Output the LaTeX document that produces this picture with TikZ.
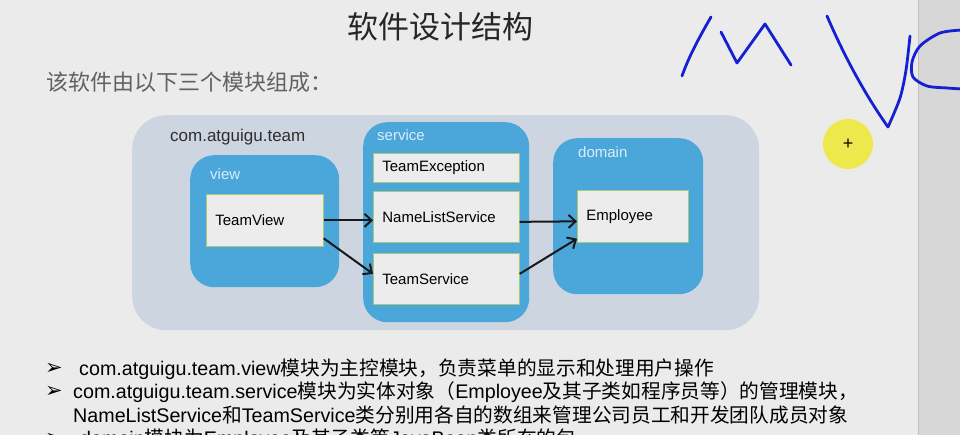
\documentclass[tikz,border=0pt]{standalone}
\usepackage{fontspec}
\setmainfont{Liberation Sans}
\newfontfamily\cjk{Noto Sans CJK SC}
\newfontfamily\symfont{DejaVu Sans}
\usetikzlibrary{arrows.meta,calc}
\definecolor{slidebg}{RGB}{235,235,235}
\definecolor{stripgray}{RGB}{215,215,215}
\definecolor{stripline}{RGB}{192,192,192}
\definecolor{teambg}{RGB}{205,213,225}
\definecolor{pkgblue}{RGB}{75,167,217}
\definecolor{pkgtext}{RGB}{218,236,250}
\definecolor{boxgray}{RGB}{236,236,236}
\definecolor{boxline}{RGB}{165,200,125}
\definecolor{inkblue}{RGB}{20,32,210}
\definecolor{cursoryellow}{RGB}{237,232,75}

\begin{document}
\begin{tikzpicture}[
  x=1pt,y=-1pt,
  arrow/.style={draw=black!90,line width=2pt,-{Straight Barb[length=7pt,width=13pt,line width=2pt]}},
  pkg/.style={fill=pkgblue,rounded corners=24pt,inner sep=0pt,anchor=north west},
  pkglabel/.style={text=pkgtext,font=\fontsize{15}{18}\selectfont,anchor=west,inner sep=0pt},
  cls/.style={fill=boxgray,draw=boxline,line width=.7pt,anchor=north west,align=left,
    inner xsep=9pt,inner ysep=0pt,font=\fontsize{15}{18}\selectfont},
  bullet/.style={anchor=west,font=\fontsize{19.7}{23}\selectfont,inner sep=0pt},
  bulletmark/.style={anchor=west,inner sep=0pt,font=\symfont\fontsize{21}{22}\selectfont},
  ink/.style={draw=inkblue,line width=2.8pt,line cap=round,line join=round}
]
\useasboundingbox (0,0) rectangle (960,435);
\clip (0,0) rectangle (960,435);
\fill[slidebg] (0,0) rectangle (960,435);
\fill[stripgray] (918,0) rectangle (960,435);
\draw[stripline,line width=1pt] (918,0) -- (918,435);

% Title and lead-in line.
\node[font=\cjk\fontsize{31}{36}\selectfont,text=black!85] (title) at (440,27) {软件设计结构};
\node[anchor=west,inner sep=0pt,font=\cjk\fontsize{22}{26}\selectfont,text=black!62] (lead) at (46,82) {该软件由以下三个模块组成：};

% Package com.atguigu.team with its three sub-packages.
\node[pkg,fill=teambg,rounded corners=34pt,minimum width=627pt,minimum height=215pt] (team) at (132,115) {};
\node[anchor=west,inner sep=0pt,font=\fontsize{17}{20}\selectfont,text=black!82] (teamlabel) at (170,137) {com.atguigu.team};

\node[pkg,minimum width=149pt,minimum height=132pt] (view) at (190,155) {};
\node[pkglabel] (viewlabel) at (210,174) {view};
\node[cls,text width=99pt,minimum height=52pt] (tv) at (206,194) {TeamView};

\node[pkg,minimum width=166pt,minimum height=200pt] (service) at (363,122) {};
\node[pkglabel] (servicelabel) at (377,135) {service};
\node[cls,text width=128pt,minimum height=29pt] (te) at (373,153) {TeamException};
\node[cls,text width=128pt,minimum height=51pt] (nls) at (373,191) {NameListService};
\node[cls,text width=128pt,minimum height=51pt] (ts) at (373,253) {TeamService};

\node[pkg,minimum width=150pt,minimum height=156pt] (domain) at (553,138) {};
\node[pkglabel] (domainlabel) at (578,152) {domain};
\node[cls,text width=93pt,minimum height=52pt] (emp) at (577,190) {Employee};

% Dependencies between the classes.
\draw[arrow] (tv.east) -- (tv.east -| nls.west);
\draw[arrow] ([yshift=-18pt]tv.east) -- ([yshift=5pt]ts.west);
\draw[arrow] ([yshift=-5pt]nls.east) -- ([yshift=-5pt]emp.west);
\draw[arrow] ([yshift=5pt]ts.east) -- ([yshift=4pt]emp.south west);

% Notes below the diagram.
\node[bulletmark] (b1) at (45,369) {➢};
\node[bullet] (l1) at (79,369) {com.atguigu.team.view{\cjk 模块为主控模块，负责菜单的显示和处理用户操作}};
\node[bulletmark] (b2) at (45,392) {➢};
\node[bullet] (l2) at (73,392) {com.atguigu.team.service{\cjk 模块为实体对象（}Employee{\cjk 及其子类如程序员等）的管理模块，}};
\node[bullet] (l3) at (73,415) {NameListService{\cjk 和}TeamService{\cjk 类分别用各自的数组来管理公司员工和开发团队成员对象}};
\node[bulletmark] (b4) at (45,439) {➢};
\node[bullet] (l4) at (80,439) {domain{\cjk 模块为}Employee{\cjk 及其子类等}JavaBean{\cjk 类所在的包}};

% Hand-written MVC and pointer.
\draw[ink] (711,17) .. controls (700,36) and (689,56) .. (682,76);
\draw[ink] (721,32) -- (737,63) -- (765,24) -- (791,65);
\draw[ink] (827,16) .. controls (845,58) and (866,96) .. (888,127);
\draw[ink] plot[smooth] coordinates {(888,127) (900,98) (906,70) (910,36)};
\draw[ink] plot[smooth] coordinates {(962,30) (940,33) (920,46) (912,62) (913,77) (927,86) (947,88) (962,89)};
\node[circle,fill=cursoryellow,minimum size=50pt,inner sep=0pt,font=\fontsize{18}{18}\selectfont] (cursor) at (848,144) {+};
\end{tikzpicture}
\end{document}
